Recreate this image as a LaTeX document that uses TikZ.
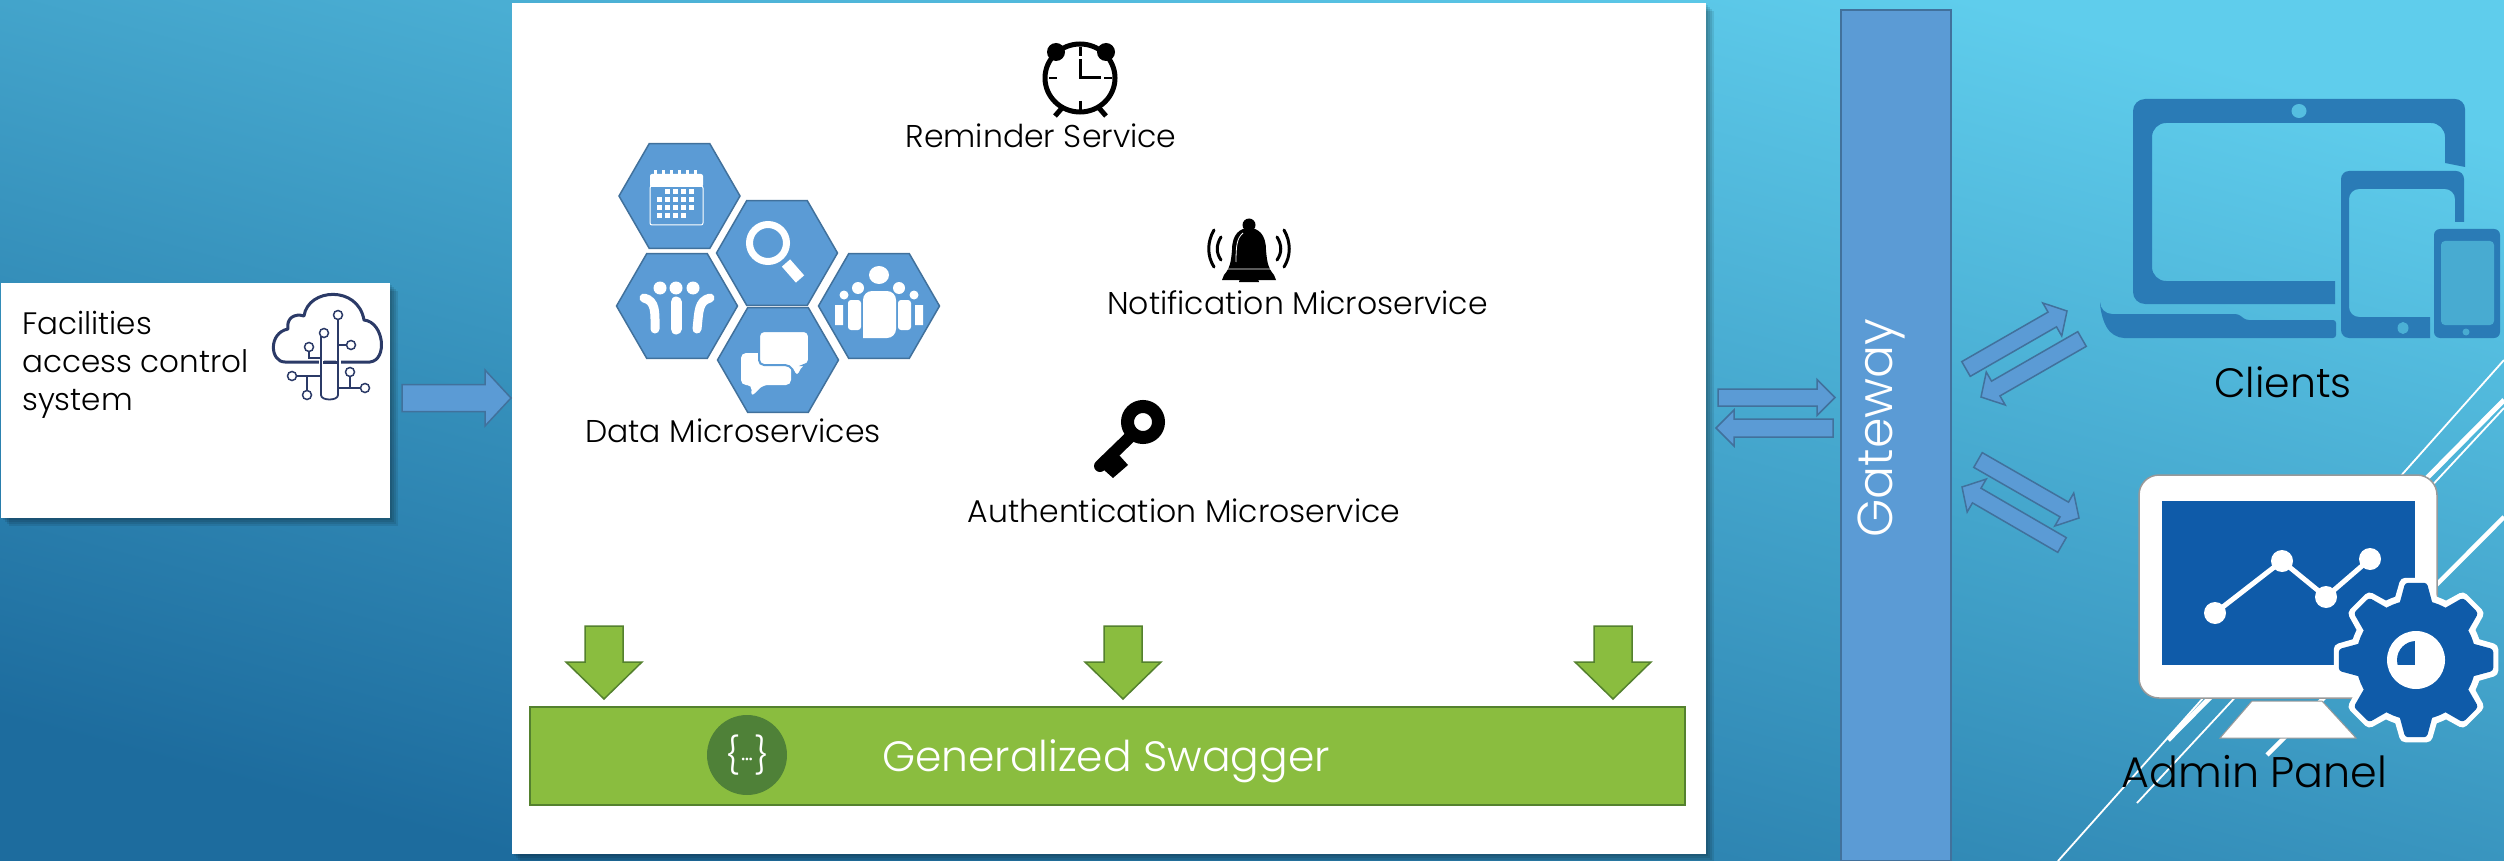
\documentclass[tikz,border=0pt]{standalone}
\usepackage{fontspec}
\setmainfont{Poppins}[UprightFont=* Light]
\usepackage{xcolor}
\usetikzlibrary{shapes,calc}
\definecolor{hexblue}{HTML}{5B9BD5}
\definecolor{hexedge}{HTML}{41719C}
\definecolor{swaggreen}{HTML}{8ABD3F}
\definecolor{swagedge}{HTML}{54812E}
\definecolor{swagdark}{HTML}{4F8138}
\definecolor{iconblue}{HTML}{2A7BB6}
\definecolor{screenblue}{HTML}{0F5BA9}
\definecolor{navy}{HTML}{2B3A67}
\definecolor{bgtop}{HTML}{5FCDEC}
\definecolor{bgbottom}{HTML}{1D6C9E}
\newcommand{\blockarrow}[6]{
  \coordinate (h) at ($(#3)!#6!(#2)$);
  \draw[#1] ($(#2)!#4!90:(#3)$) -- ($(h)!#4!-90:(#2)$) -- ($(h)!#5!-90:(#2)$) -- (#3)
    -- ($(h)!#5!90:(#2)$) -- ($(h)!#4!90:(#2)$) -- ($(#2)!#4!-90:(#3)$) -- cycle;
}
\tikzset{
  hexnode/.style={regular polygon,regular polygon sides=6,minimum size=121pt,
    inner sep=0pt,fill=hexblue,draw=hexedge,line width=1.5pt},
  blue arrow/.style={fill=hexblue,draw=hexedge,line width=1.5pt,line join=miter},
  green arrow/.style={fill=swaggreen,draw=swagedge,line width=1.5pt,line join=miter},
  txt/.style={anchor=base,text=black,inner sep=0pt,font=\fontsize{#1}{#1}\selectfont},
  txt/.default=31.5,
  circuit/.style={navy,line width=1.8pt},
  stripe/.style={white,line width=#1},
  pad/.style={circle,draw=navy,fill=white,line width=1.5pt,inner sep=0pt,minimum size=9pt}
}
\begin{document}
\begin{tikzpicture}[x=1pt,y=-1pt]
\useasboundingbox (0,0) rectangle (2504,861);
\shade[top color=bgtop,bottom color=bgbottom,shading angle=-15] (0,0) rectangle (2504,861);
\foreach \s in {2,4,6,8} {
  \fill[black,opacity=.09] (512+\s,3+\s) rectangle (1706+\s,854+\s);
  \fill[black,opacity=.09] (1+\s,283+\s) rectangle (390+\s,518+\s);
}
\draw[stripe=1.8pt] (2058,861) -- (2504,360);
\draw[stripe=1.8pt] (2137,803) -- (2504,408);
\draw[stripe=5pt] (2168,740) -- (2504,400);
\draw[stripe=4.5pt] (2267,755) -- (2504,517);

\node[fill=white,anchor=north west,minimum width=1194pt,minimum height=851pt] (panel) at (512,3) {};
\node[fill=white,anchor=north west,minimum width=389pt,minimum height=235pt] (facilities) at (1,283) {};
\node[txt=31,anchor=base west] (factitle) at (22,334) {Facilities};
\node[txt=31,anchor=base west] (facaccess) at (22,372) {access control};
\node[txt=31,anchor=base west] (facsystem) at (22,410) {system};

\draw[navy,line width=3pt,line join=round] (285,362) .. controls (270,362) and (268,333) .. (288,329)
  .. controls (286,318) and (295,313) .. (304,316) .. controls (308,288) and (358,285) .. (364,320)
  .. controls (384,322) and (388,360) .. (370,362) -- cycle;
\draw[white,line width=5pt] (321,345) -- (321,366) (338,345) -- (338,366);
\draw[circuit] (321,362) -- (321,395) .. controls (321,401) and (338,401) .. (338,395) -- (338,315);
\draw[circuit] (321,333) -- (321,380) (309,347) -- (309,358) -- (321,358);
\draw[circuit] (351,345) -- (338,345) (292,376) -- (321,376) (307,395) -- (307,376);
\draw[circuit] (350,372) -- (350,388) -- (338,388) (365,388) -- (350,388);
\draw[navy,line width=3pt] (323,362) -- (337,362);
\foreach \n/\x/\y in {a/338/315,b/324/333,c/309/347,d/351/345,e/292/376,f/350/372,g/365/388,h/307/395} {
  \node[pad] (pad\n) at (\x,\y) {};
}
\coordinate (facout) at (402,398);
\coordinate (panelin) at (511,398);
\blockarrow{blue arrow}{facout}{panelin}{13.5pt}{28pt}{26pt}

\node[hexnode] (calendar) at (679.5,196) {};
\node[hexnode] (search) at (777,253) {};
\node[hexnode] (team) at (677,306) {};
\node[hexnode] (group) at (879,306) {};
\node[hexnode] (chat) at (778,360) {};
\node[txt] (datalabel) at (733,442) {Data Microservices};

\fill[white,rounded corners=2pt] (650,174) rectangle (703,187);
\foreach \x in {655,663,671,679,687,695} {\fill[white] (\x-1.5,170) rectangle (\x+1.5,176);}
\draw[white,line width=1pt,rounded corners=2pt] (650,186) rectangle (703,225);
\foreach \y/\f/\t in {192/2/5,200/1/5,208/1/5,216/1/4} {
  \foreach \i in {\f,...,\t} {\fill[white] (649+8*\i,\y-2.5) rectangle +(5,5);}
}

\draw[white,line width=7pt] (768,243) circle (18.5);
\draw[white,line width=11pt] (786,263) -- (800,279);

\fill[white] (660,288) circle (6.5) (676,288) circle (6.5) (693,288) circle (6.5);
\draw[white,line width=9pt,line cap=round] (644,298) .. controls (656,301) and (655,312) .. (655,329);
\draw[white,line width=9pt,line cap=round] (710,298) .. controls (698,301) and (699,312) .. (697,329);
\draw[white,line width=11pt,line cap=round] (676,302) -- (676,329);

\fill[white,rounded corners=5pt] (741,353) -- (791,353) -- (791,385) -- (763,385) -- (751,397) -- (752,385) -- (741,385) -- cycle;
\filldraw[fill=white,draw=hexblue,line width=2pt,rounded corners=5pt] (759,331) -- (809,331) -- (809,365) -- (804,365) -- (797,378) -- (790,365) -- (759,365) -- cycle;

\fill[white] (879,275) ellipse (10 and 9);
\fill[white] (858,288) circle (6) (899,288) circle (6) (844,295) circle (4.5) (914,295) circle (4.5);
\fill[white] (835,305) rectangle (843,325) (915,305) rectangle (923,325);
\fill[white,rounded corners=3pt] (848,300) rectangle (861,330) (898,300) rectangle (911,330);
\fill[white,rounded corners=9pt] (863,338) -- (863,291) -- (896,291) -- (896,338) [sharp corners] -- cycle;

\draw[black,line width=5pt] (1080,78) ellipse (35 and 34);
\fill[black] (1056,52) circle (9) (1106,52) circle (9);
\draw[black,line width=5pt] (1062,108) -- (1055,116) (1099,108) -- (1106,116);
\draw[black,line width=2.5pt] (1080.5,47) -- (1080.5,56) (1080.5,101) -- (1080.5,110)
  (1049,78) -- (1057,78) (1104,78) -- (1112,78);
\draw[black,line width=3pt] (1080,59) -- (1080,78) -- (1101,78);
\node[txt] (reminderlabel) at (1041,148) {Reminder Service};

\fill[black] (1249,225) circle (6.5);
\fill[black] (1222,280) -- (1224,275) .. controls (1230,268) and (1231,262) .. (1232,250)
  .. controls (1232,234) and (1240,228) .. (1249,228) .. controls (1258,228) and (1266,234) .. (1266,250)
  .. controls (1267,262) and (1268,268) .. (1274,275) -- (1276,280) -- cycle;
\fill[black] (1239,282) arc (180:0:10 and -6.5);
\draw[white,line width=.8pt] (1226,269) -- (1272,269) (1236,262) .. controls (1236,245) and (1237,238) .. (1243,233);
\draw[black,line width=3pt,line cap=round] (1214,230) .. controls (1207,242) and (1207,256) .. (1214,267)
  (1221,237) .. controls (1216,245) and (1216,253) .. (1221,260)
  (1284,230) .. controls (1291,242) and (1291,256) .. (1284,267)
  (1277,237) .. controls (1282,245) and (1282,253) .. (1277,260);
\node[txt] (notiflabel) at (1297.5,314) {Notification Microservice};

\draw[black,line width=13pt] (1143,422) circle (15.5);
\draw[black,line width=12pt,line cap=round] (1131,436) -- (1100,466);
\fill[black] (1119,455) -- (1128,465) -- (1113,478) -- (1104,470) -- cycle;
\node[txt] (authlabel) at (1184,522) {Authentication Microservice};

\node[fill=swaggreen,draw=swagedge,line width=2pt,anchor=north west,minimum width=1155pt,minimum height=98pt] (swagger) at (529,706) {};
\node[circle,fill=swagdark,minimum size=80pt,inner sep=0pt,text=white,font=\fontsize{36}{36}\selectfont] (swagicon) at (747,755) {\{\kern1pt\fontsize{26}{26}\selectfont\textperiodcentered\kern-1pt\textperiodcentered\kern-1pt\textperiodcentered\kern1pt\fontsize{36}{36}\selectfont\}};
\node[txt=42.4,text=white] (swaglabel) at (1106,771) {Generalized Swagger};
\foreach \n/\x in {a/604,b/1123,c/1613} {
  \coordinate (swagin\n) at (\x,626);
  \coordinate (swagtip\n) at (\x,699);
  \blockarrow{green arrow}{swagin\n}{swagtip\n}{19pt}{38pt}{37pt}
}

\node[fill=hexblue,draw=hexedge,line width=2pt,anchor=north west,minimum width=110pt,minimum height=851pt] (gateway) at (1840,9) {};
\node[txt=49,text=white,rotate=90] (gatewaylabel) at (1892,428) {Gateway};

\coordinate (ga) at (1718,397.5);
\coordinate (gb) at (1835,397.5);
\coordinate (gc) at (1833,428);
\coordinate (gd) at (1716,428);
\blockarrow{blue arrow}{ga}{gb}{8.5pt}{18pt}{18pt}
\blockarrow{blue arrow}{gc}{gd}{9pt}{18pt}{18pt}
\coordinate (ca) at (1966,369);
\coordinate (cb) at (2067,311);
\coordinate (cc) at (2082,339);
\coordinate (cd) at (1981,397);
\coordinate (aa) at (1978,460);
\coordinate (ab) at (2079,518);
\coordinate (ac) at (2062,545);
\coordinate (ad) at (1962,487);
\blockarrow{blue arrow}{ca}{cb}{8.5pt}{19pt}{17pt}
\blockarrow{blue arrow}{cc}{cd}{8.5pt}{19pt}{17pt}
\blockarrow{blue arrow}{aa}{ab}{8.5pt}{19pt}{17pt}
\blockarrow{blue arrow}{ac}{ad}{8.5pt}{19pt}{17pt}

\fill[iconblue,rounded corners=10pt] (2133,99) -- (2465,99) -- (2465,135) [sharp corners] -- (2465,167) -- (2445,163) [rounded corners=14pt] -- (2445,123) -- (2152,123) -- (2152,281) [sharp corners] -- (2335,281) -- (2335,304) [rounded corners=12pt] -- (2133,304) -- cycle;
\fill[bgtop!85!bgbottom] (2299,111) ellipse (7.5 and 7);
\fill[iconblue,rounded corners=3pt] (2100,314) -- (2238,314) -- (2246,320) -- (2336,320) -- (2336,338) [rounded corners=12pt] -- (2112,338) -- (2100,314) -- cycle;
\fill[iconblue,rounded corners=8pt] (2341,171) -- (2464,171) -- (2464,200) [sharp corners] -- (2464,222) -- (2455,222) [rounded corners=10pt] -- (2455,189) -- (2349,189) -- (2349,317) [sharp corners] -- (2430,317) -- (2430,338) [rounded corners=8pt] -- (2341,338) -- cycle;
\fill[bgtop!70!bgbottom] (2403,328) ellipse (5.5 and 6);
\fill[iconblue,rounded corners=6pt] (2434,229) rectangle (2500,338);
\fill[bgtop!65!bgbottom,rounded corners=4pt] (2441,241) rectangle (2494,325);
\fill[bgtop!65!bgbottom] (2466,332) circle (3.5);
\node[txt=41] (clientslabel) at (2283,397) {Clients};

\fill[white,draw=gray!80,line width=1pt] (2252,701) -- (2322,701) -- (2356,738) -- (2220,738) -- cycle;
\filldraw[fill=white,draw=gray!80,line width=1.5pt,rounded corners=20pt] (2139,475) rectangle (2437,698);
\fill[screenblue] (2162,501) rectangle (2415,665);
\draw[white,line width=5pt] (2215,613) -- (2282,561) -- (2326,597) -- (2370,559);
\foreach \x/\y in {2215/613,2282/561,2326/597,2370/559} {\fill[white] (\x,\y) circle (11);}
\begin{scope}[shift={(2416,660)}]
\filldraw[fill=white,draw=white,line width=1pt] (0,0) circle (66);
\foreach \a in {0,45,...,315} {
  \filldraw[fill=white,draw=white,line width=12pt,line join=round] (\a-17:57.6) -- (\a-8:77) -- (\a+8:77) -- (\a+17:57.6) -- cycle;
}
\foreach \a in {0,45,...,315} {
  \fill[screenblue,rounded corners=3pt] (\a-17:57.6) -- (\a-8:78) -- (\a+8:78) -- (\a+17:57.6) -- cycle;
}
\fill[screenblue] (0,0) circle (60);
\fill[white] (0,0) circle (29);
\begin{scope}
\clip (0,0) circle (19);
\fill[screenblue] (-36,-40) rectangle (-1,5);
\end{scope}
\end{scope}
\node[txt=42.8] (adminlabel) at (2254.5,787) {Admin Panel};
\end{tikzpicture}
\end{document}
